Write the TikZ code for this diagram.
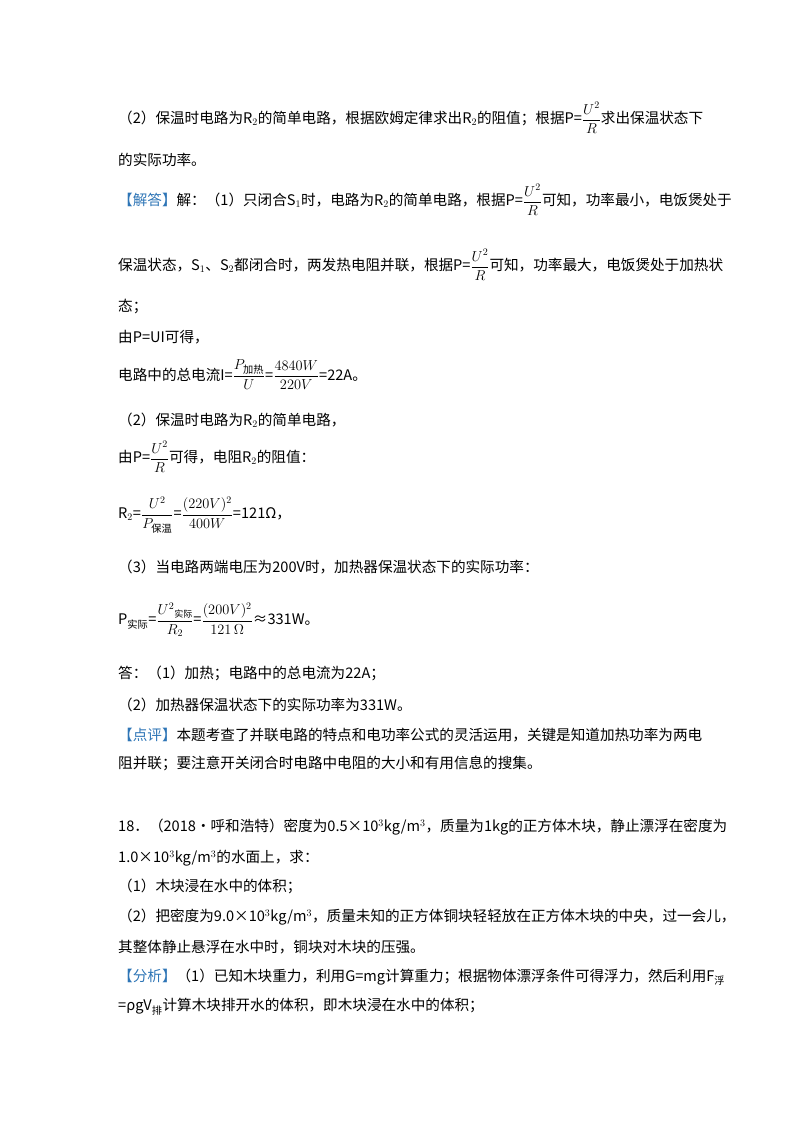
\documentclass[tikz,border=0pt]{standalone}
\usepackage{amsmath}
\usepackage{fontspec}
\setmainfont{Noto Sans CJK SC}
\definecolor{jd}{HTML}{2E75B6}
\begin{document}
\begin{tikzpicture}[x=1pt,y=-1pt,every node/.style={anchor=west,inner sep=0pt,font=\fontsize{14.6}{16}\selectfont}]
\useasboundingbox (0,0) rectangle (800,1132);
\node (l1) at (118,118) {（2）保温时电路为R$_2$的简单电路，根据欧姆定律求出R$_2$的阻值；根据P=$\dfrac{U^2}{R}$求出保温状态下};
\node (l2) at (118,160) {的实际功率。};
\node (l3) at (118,200) {\textcolor{jd}{【解答】}解：（1）只闭合S$_1$时，电路为R$_2$的简单电路，根据P=$\dfrac{U^2}{R}$可知，功率最小，电饭煲处于};
\node (l4) at (118,265) {保温状态，S$_1$、S$_2$都闭合时，两发热电阻并联，根据P=$\dfrac{U^2}{R}$可知，功率最大，电饭煲处于加热状};
\node (l5) at (118,307) {态；};
\node (l6) at (118,337) {由P=UI可得，};
\node (l7) at (118,375) {电路中的总电流I=$\dfrac{P_{\text{加热}}}{U}$=$\dfrac{4840W}{220V}$=22A。};
\node (l8) at (118,420) {（2）保温时电路为R$_2$的简单电路，};
\node (l9) at (118,457) {由P=$\dfrac{U^2}{R}$可得，电阻R$_2$的阻值：};
\node (l10) at (118,515) {R$_2$=$\dfrac{U^2}{P_{\text{保温}}}$=$\dfrac{(220V)^2}{400W}$=121Ω，};
\node (l11) at (118,567) {（3）当电路两端电压为200V时，加热器保温状态下的实际功率：};
\node (l12) at (118,620) {P$_{\text{实际}}$=$\dfrac{U^{2}\text{\lower3pt\hbox{\fontsize{9}{9}\selectfont 实际}}}{R_2}$=$\dfrac{(200V)^2}{121\,\Omega}$≈331W。};
\node (l13) at (118,673) {答：（1）加热；电路中的总电流为22A；};
\node (l14) at (118,705) {（2）加热器保温状态下的实际功率为331W。};
\node (l15) at (118,735) {\textcolor{jd}{【点评】}本题考查了并联电路的特点和电功率公式的灵活运用，关键是知道加热功率为两电};
\node (l16) at (118,763) {阻并联；要注意开关闭合时电路中电阻的大小和有用信息的搜集。};
\node (l17) at (118,827) {18．（2018•呼和浩特）密度为0.5×10$^3$kg/m$^3$，质量为1kg的正方体木块，静止漂浮在密度为};
\node (l18) at (118,858) {1.0×10$^3$kg/m$^3$的水面上，求：};
\node (l19) at (118,886) {（1）木块浸在水中的体积；};
\node (l20) at (118,917) {（2）把密度为9.0×10$^3$kg/m$^3$，质量未知的正方体铜块轻轻放在正方体木块的中央，过一会儿，};
\node (l21) at (118,947) {其整体静止悬浮在水中时，铜块对木块的压强。};
\node (l22) at (118,977) {\textcolor{jd}{【分析】}（1）已知木块重力，利用G=mg计算重力；根据物体漂浮条件可得浮力，然后利用F$_{\text{浮}}$};
\node (l23) at (118,1007) {=ρgV$_{\text{排}}$计算木块排开水的体积，即木块浸在水中的体积；};
\end{tikzpicture}
\end{document}
